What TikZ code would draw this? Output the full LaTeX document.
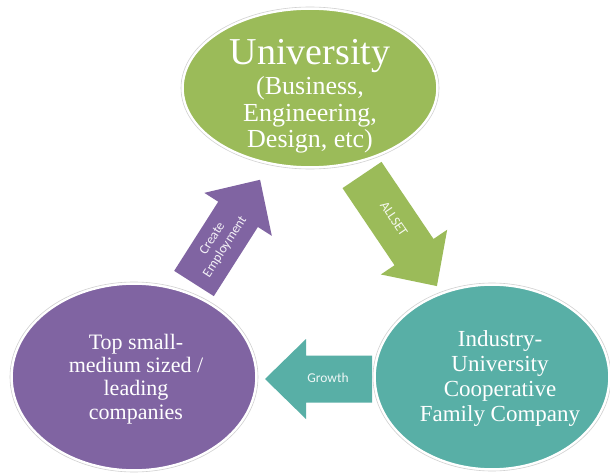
\documentclass[tikz,border=0pt]{standalone}
\usepackage{fontspec}
\setmainfont{Liberation Serif}
\newfontfamily\blobfont{Liberation Serif}
\newfontfamily\arrowfont{Carlito}
\usetikzlibrary{shapes.geometric}
\definecolor{ugreen}{HTML}{9BBB59}
\definecolor{upurple}{HTML}{8064A2}
\definecolor{uteal}{HTML}{58AFA6}
\tikzset{
  halo/.style={draw=black!18, line width=0.6pt},
  blob/.style={fill=#1, draw=white, line width=1.6pt},
  blobtext/.style={text=white, align=center, inner sep=0pt},
  blockarrow/.style={fill=#1, draw=none},
  arrowlabel/.style={text=white, text opacity=0.9, align=center, inner sep=0pt, font=\arrowfont\fontsize{13.5}{15}\selectfont}
}
\newcommand{\blockarrowpath}[2]{% length, colour
  \fill[blockarrow=#2] (0,-23.5) -- (#1-41,-23.5) -- (#1-41,-40) -- (#1,0) -- (#1-41,40) -- (#1-41,23.5) -- (0,23.5) -- cycle;}
\begin{document}
\begin{tikzpicture}[x=1pt,y=-1pt]
\useasboundingbox[fill=white] (0,0) rectangle (610,473);

% block arrows (behind the ellipses)
\begin{scope}[shift={(362,175)}, rotate=-56]
  \blockarrowpath{134}{ugreen}
\end{scope}
\begin{scope}[shift={(194,283.5)}, rotate=57.5]
  \blockarrowpath{123}{upurple}
\end{scope}
\begin{scope}[shift={(372,379)}, rotate=180]
  \blockarrowpath{107}{uteal}
\end{scope}

% ellipses
\draw[halo] (310,88) ellipse [x radius=129, y radius=81];
\fill[blob=ugreen] (310,88) ellipse [x radius=127, y radius=79];
\draw[halo] (134,377) ellipse [x radius=124, y radius=95];
\fill[blob=upurple] (134,377) ellipse [x radius=122, y radius=93];
\draw[halo] (492,377) ellipse [x radius=119, y radius=94];
\fill[blob=uteal] (492,377) ellipse [x radius=117, y radius=92];

% ellipse texts
\node[blobtext, font=\blobfont\fontsize{26}{26.5}\selectfont] (univ) at (310,96.5)
  {{\fontsize{38}{38}\selectfont University}\\[3.5pt](Business,\\Engineering,\\Design, etc)};
\node[blobtext, font=\blobfont\fontsize{22}{23.3}\selectfont] (sme) at (136,379)
  {Top small-\\medium sized /\\leading\\companies};
\node[blobtext, font=\blobfont\fontsize{23}{24.7}\selectfont] (iucf) at (500,378.5)
  {Industry-\\University\\Cooperative\\Family Company};

% arrow labels
\node[arrowlabel, rotate=-56] (allset) at (394,219) {ALLSET};
\node[arrowlabel, rotate=57.5] (create) at (219,243) {Create\\Employment};
\node[arrowlabel] (growth) at (328,378) {Growth};
\end{tikzpicture}
\end{document}
